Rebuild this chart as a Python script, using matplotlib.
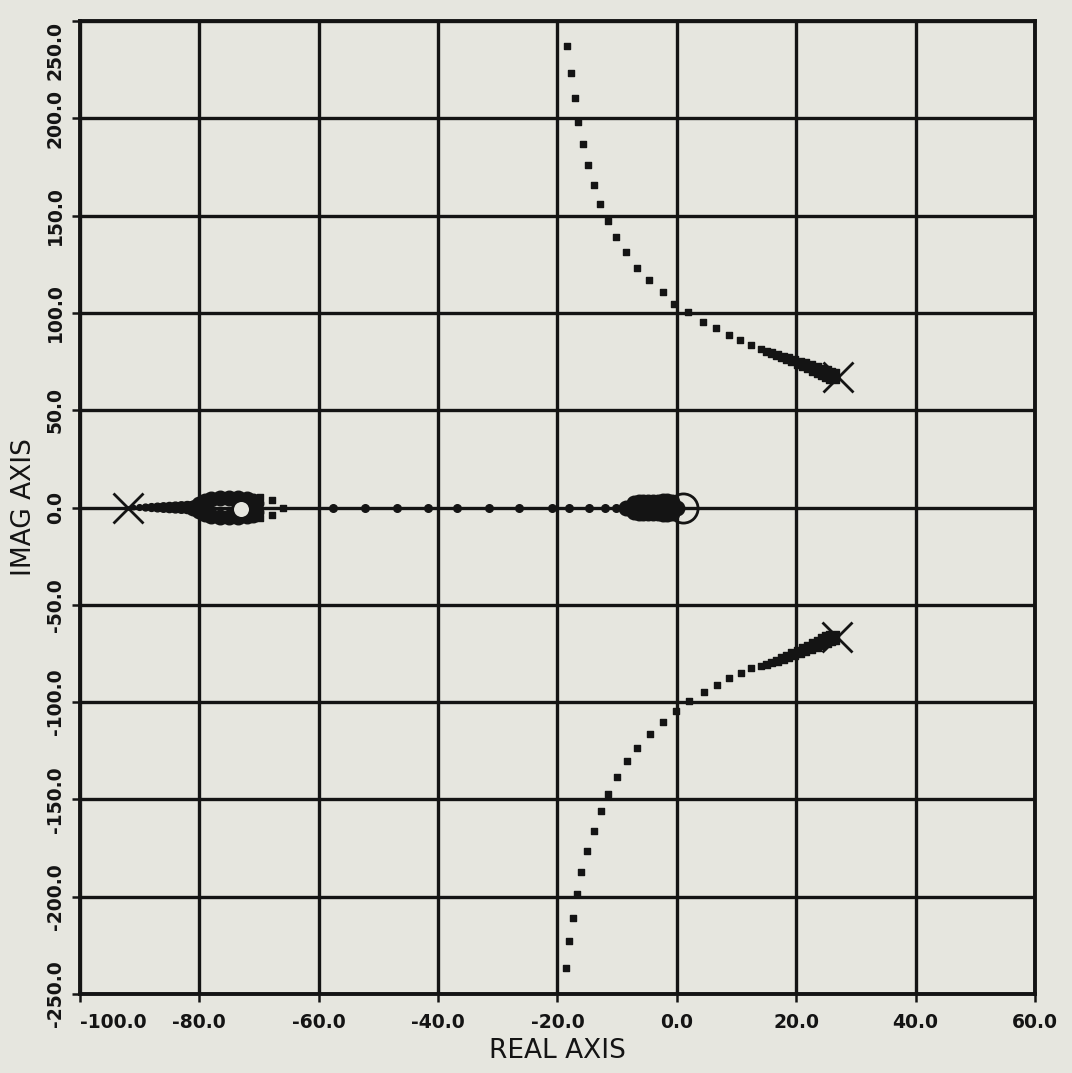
import numpy as np
import matplotlib
matplotlib.use("Agg")
import matplotlib.pyplot as plt

plt.rcParams['font.family'] = ['DejaVu Sans']

# Open-loop poles (X) and zeros (O)
pole_re = [-92.0, 27.0, 26.8]
pole_im = [0.0, 67.0, -66.5]
zero_re = [-73.0, 1.0]
zero_im = [-0.5, 0.0]

# Upper complex branch
up_re = [-18.4, -17.8, -17.1, -16.5, -15.7, -14.9, -13.9, -12.8, -11.5, -10.2,
         -8.5, -6.7, -4.7, -2.4, -0.5, 1.8, 4.3, 6.6, 8.7, 10.6, 12.4, 14.1]
up_im = [237.3, 223.5, 210.2, 198.2, 186.7, 175.9, 165.6, 156.2, 147.3, 139.1,
         131.4, 123.3, 116.8, 110.5, 104.5, 100.6, 95.4, 92.0, 88.7, 86.0, 83.4, 81.3]

# Lower complex branch
lo_re = [-18.5, -18.1, -17.4, -16.7, -16.0, -15.0, -13.9, -12.7, -11.5, -10.1,
         -8.4, -6.7, -4.5, -2.3, -0.2, 2.1, 4.5, 6.7, 8.8, 10.7, 12.5, 14.1]
lo_im = [-236.6, -223.0, -210.9, -198.5, -187.3, -176.3, -166.0, -156.1, -147.2, -138.6,
         -130.4, -123.6, -116.4, -110.4, -104.5, -99.3, -94.7, -91.3, -87.8, -84.8, -82.7, -81.4]

# Dense part of the branches close to the complex poles
upd_re = [15.0, 15.9, 16.8, 17.7, 18.6, 19.5, 20.4, 21.3, 22.2, 23.1, 23.9, 24.7, 25.4, 26.1]
upd_im = [80.3, 79.4, 78.4, 77.4, 76.4, 75.5, 74.4, 73.4, 72.3, 71.2, 70.2, 69.3, 68.4, 67.6]
lod_re = [15.0, 15.9, 16.8, 17.7, 18.6, 19.5, 20.4, 21.3, 22.2, 23.1, 23.9, 24.7, 25.4, 26.1]
lod_im = [-80.6, -79.7, -78.7, -77.6, -76.5, -75.4, -74.2, -73.0, -71.8, -70.6, -69.5, -68.4, -67.5, -66.7]

# Real axis branch from the pole at -92
ra_re = [-91, -90, -89, -88, -87, -86, -85, -84, -83, -82, -81, -80]
ra_im = [0.0] * 12

# Small loop around the zero near -73
loop_re = [-81.0, -80.0, -79.0, -78.0, -76.5, -75.0, -73.5, -72.0, -71.0, -70.5,
           -80.0, -79.0, -78.0, -76.5, -75.0, -73.5, -72.0, -71.0, -70.5]
loop_im = [0.0, 2.0, 3.2, 4.2, 4.8, 5.0, 5.0, 4.6, 3.6, 2.5,
           -2.0, -3.2, -4.2, -4.8, -5.0, -5.0, -4.6, -3.6, -2.5]
loopdots_re = [-69.8, -69.8, -67.8, -67.8, -66.0]
loopdots_im = [5.5, -5.5, 4.0, -4.0, 0.0]

# Sparse points along the real axis
axis_re = [-57.6, -52.3, -46.9, -41.7, -36.8, -31.5, -26.5, -21.0, -18.0, -14.8, -12.1, -10.2]
axis_im = [0.0] * 12

# Blob near the origin
orig_re = [-8.6, -8.0, -7.2, -6.4, -5.6, -4.8, -4.0, -3.2, -2.4, -1.6, -0.8, 0.0,
           -7.2, -6.4, -5.6, -4.8, -4.0, -3.2, -2.4, -1.6, -0.8,
           -7.2, -6.4, -5.6, -4.8, -4.0, -3.2, -2.4, -1.6, -0.8]
orig_im = [0.0] * 12 + [2.2, 2.6, 2.8, 3.0, 3.0, 3.0, 3.2, 3.2, 3.0] + \
          [-2.2, -2.6, -2.8, -3.0, -3.0, -3.0, -3.2, -3.2, -3.0]

xticks = [-100.0, -80.0, -60.0, -40.0, -20.0, 0.0, 20.0, 40.0, 60.0]
yticks = [-250.0, -200.0, -150.0, -100.0, -50.0, 0.0, 50.0, 100.0, 150.0, 200.0, 250.0]

bg = '#e6e6df'
ink = '#141414'

fig = plt.figure(figsize=(10.72, 10.73), dpi=100, facecolor=bg)
ax = fig.add_axes([0.0746, 0.0736, 0.8909, 0.9068])
ax.set_facecolor(bg)

# Grid lines drawn first, the locus goes on top
ax.set_xlim(-100, 60)
ax.set_ylim(-250, 250)
ax.set_xticks(xticks)
ax.set_yticks(yticks)
ax.grid(True, color=ink, linewidth=2.4)
ax.set_axisbelow(True)
for side in ax.spines.values():
    side.set_linewidth(2.8)
    side.set_color(ink)

# Locus branches
ax.scatter(up_re, up_im, marker='s', s=22, color=ink, zorder=3)
ax.scatter(lo_re, lo_im, marker='s', s=22, color=ink, zorder=3)
ax.scatter(upd_re, upd_im, marker='s', s=np.linspace(22, 90, len(upd_re)), color=ink, zorder=3)
ax.scatter(lod_re, lod_im, marker='s', s=np.linspace(22, 90, len(lod_re)), color=ink, zorder=3)
ax.plot(upd_re, upd_im, color=ink, lw=3, zorder=3)
ax.plot(lod_re, lod_im, color=ink, lw=3, zorder=3)
ax.scatter(ra_re, ra_im, marker='o', s=np.linspace(10, 90, len(ra_re)), color=ink, zorder=3)
ax.scatter(loop_re, loop_im, marker='o', s=110, color=ink, zorder=3)
ax.scatter(loopdots_re, loopdots_im, marker='s', s=22, color=ink, zorder=3)
ax.scatter(axis_re, axis_im, marker='o', s=30, color=ink, zorder=3)
ax.scatter(orig_re, orig_im, marker='o', s=110, color=ink, zorder=3)

# Poles and zeros
ax.plot(pole_re, pole_im, linestyle='none', marker='x', markersize=21,
        markeredgewidth=2.0, color=ink, zorder=4)
ax.plot(zero_re[0], zero_im[0], linestyle='none', marker='o', markersize=13,
        markeredgewidth=2.2, markerfacecolor=bg, markeredgecolor=ink, zorder=4)
ax.plot(zero_re[1], zero_im[1], linestyle='none', marker='o', markersize=21,
        markeredgewidth=2.0, markerfacecolor='none', markeredgecolor=ink, zorder=4)

# Ticks and labels
ax.tick_params(axis='both', direction='out', length=6, width=1.8, color=ink)
ax.tick_params(axis='x', pad=8)
ax.tick_params(axis='y', pad=5)
ax.set_xticklabels(['%.1f' % v for v in xticks], fontsize=13.5, fontweight='bold', color=ink)
ax.set_yticklabels(['%.1f' % v for v in yticks], fontsize=13.5, fontweight='bold', color=ink,
                   rotation=90, va='center')
ax.get_xticklabels()[0].set_ha('left')
ax.get_yticklabels()[-1].set_va('top')

ax.set_xlabel('REAL AXIS', fontsize=19, color=ink, labelpad=4)
ax.set_ylabel('IMAG AXIS', fontsize=19, color=ink, labelpad=6)

fig.savefig('out.png', dpi=100, facecolor=bg)
